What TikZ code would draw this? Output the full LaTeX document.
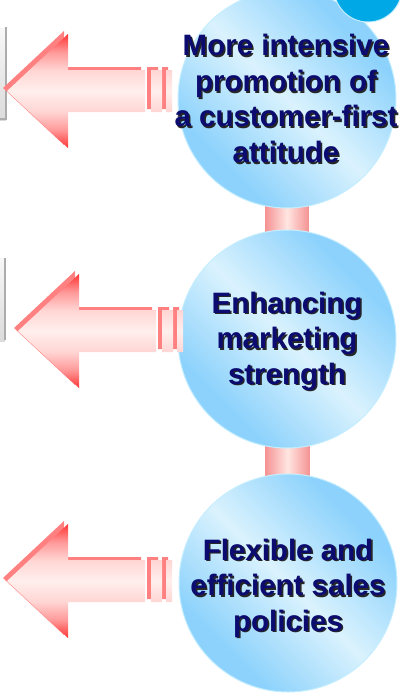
\documentclass[tikz,border=0pt]{standalone}
\usepackage{fontspec}
\setmainfont{Liberation Sans}

\definecolor{ballD}{HTML}{8CD2FC}
\definecolor{ballL}{HTML}{DAF2FD}
\definecolor{ballrim}{HTML}{C4EEFF}
\definecolor{arR}{HTML}{FF3535}
\definecolor{arM}{HTML}{FF9A9A}
\definecolor{arP}{HTML}{FFD6D4}
\definecolor{arL}{HTML}{FFEFEC}
\definecolor{arshade}{HTML}{FF8080}
\definecolor{tubeD}{HTML}{F59494}
\definecolor{tubeL}{HTML}{FFE6E2}
\definecolor{navy}{HTML}{0B0B70}
\definecolor{topblue}{HTML}{00A9E6}

\pgfdeclarehorizontalshading{ballshade}{100bp}{color(0bp)=(ballD); color(29bp)=(ballD); color(50bp)=(ballL); color(71bp)=(ballD); color(100bp)=(ballD)}
\pgfdeclareverticalshading{arrowshade}{100bp}{color(0bp)=(arR); color(25bp)=(arR); color(33bp)=(arM); color(41bp)=(arP); color(50bp)=(arL); color(59bp)=(arP); color(67bp)=(arM); color(75bp)=(arR); color(100bp)=(arR)}

\tikzset{
  ball/.style={circle, minimum size=218pt, inner sep=0pt, draw=ballrim, line width=1pt,
    shade, shading=ballshade, shading angle=45},
  tube/.style={left color=tubeD, right color=tubeD, middle color=tubeL},
  arrowpath/.style={insert path={(0,0) -- (61,-57) -- (61,-21) -- (138,-21) -- (138,21)
    -- (61,21) -- (61,57) -- cycle (144,-21) rectangle (155,21) (159,-21) rectangle (165,21)}},
  arrowshadow/.style={fill=arshade, draw=none},
  arrowbody/.style={shading=arrowshade, draw=none},
  lbl/.style={align=center, font=\bfseries\fontsize{29.5}{35.5}\selectfont, text=navy, inner sep=0pt},
  sidebar/.style={draw=gray!65, line width=2pt}
}

% one caption line with its dark drop shadow behind it
\newcommand\shline[1]{\leavevmode\rlap{\kern1.6pt\raisebox{-1.6pt}{\color{black!85}#1}}#1}

\newcommand\redarrow[2]{%
  \begin{scope}[shift={(#1,#2)}]
    \fill[arrowshadow, shift={(-4,-3)}, arrowpath];
    \shade[arrowbody, arrowpath];
  \end{scope}}

\begin{document}
\begin{tikzpicture}[x=1pt, y=-1pt]
  \clip (0,0) rectangle (406,697);
  \fill[white] (0,0) rectangle (406,697);

  % side bars at the left edge
  \shade[top color=gray!6, bottom color=gray!28] (0,28) rectangle (6,120);
  \draw[sidebar] (6,27) -- (6,119) -- (0,119);
  \shade[top color=gray!6, bottom color=gray!28] (0,258) rectangle (5,341);
  \draw[sidebar] (5,258) -- (5,340);

  % circle centres
  \coordinate (p1) at (287,99);
  \coordinate (p2) at (287,339);
  \coordinate (p3) at (288,583);

  % connecting tubes
  \shade[tube] ([xshift=-21.5pt]p1) rectangle ([xshift=21.5pt]p2);
  \shade[tube] ([xshift=-21.5pt]p2) rectangle ([xshift=21.5pt]p3);

  % circles
  \node[ball] (c1) at (p1) {};
  \node[ball] (c2) at (p2) {};
  \node[ball] (c3) at (p3) {};

  % blue disc at the top right corner
  \fill[topblue, draw=ballrim, line width=1pt] (368,-12) circle (34);

  % captions
  \node[lbl] (t1) at (286,99.5) {\shline{More intensive}\\\shline{promotion of}\\\shline{a customer-first}\\\shline{attitude}};
  \node[lbl] (t2) at (287,342) {\shline{Enhancing}\\\shline{marketing}\\\shline{strength}};
  \node[lbl] (t3) at (288,589) {\shline{Flexible and}\\\shline{efficient sales}\\\shline{policies}};

  % striped arrows pointing left
  \redarrow{7}{91}
  \redarrow{18}{331}
  \redarrow{7}{581}
\end{tikzpicture}
\end{document}
